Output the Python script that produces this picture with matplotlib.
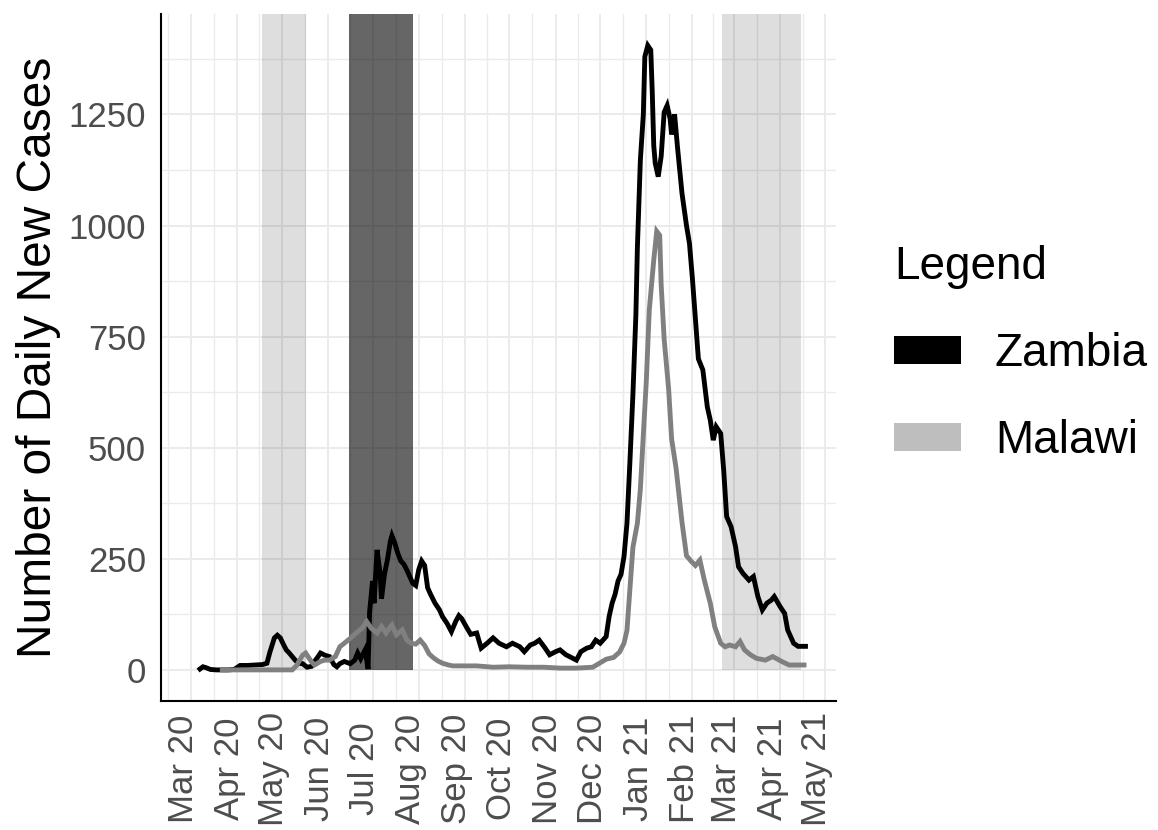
import matplotlib
matplotlib.use("Agg")
import matplotlib.pyplot as plt
from matplotlib.patches import Patch
from matplotlib.transforms import ScaledTranslation
import pandas as pd

plt.rcParams['font.family'] = 'Liberation Sans'

# daily new cases
zambia_dates = [
    '2020-03-07', '2020-03-09', '2020-03-11', '2020-03-14', '2020-03-18', '2020-03-22',
    '2020-03-26', '2020-03-30', '2020-04-03', '2020-04-08', '2020-04-13', '2020-04-18',
    '2020-04-21', '2020-04-23', '2020-04-26', '2020-04-28', '2020-04-30', '2020-05-02',
    '2020-05-04', '2020-05-06', '2020-05-08', '2020-05-10', '2020-05-12', '2020-05-15',
    '2020-05-18', '2020-05-21', '2020-05-23', '2020-05-25', '2020-05-27', '2020-05-30',
    '2020-06-02', '2020-06-05', '2020-06-07', '2020-06-09', '2020-06-12', '2020-06-16',
    '2020-06-19', '2020-06-21', '2020-06-23', '2020-06-26', '2020-06-28', '2020-06-29',
    '2020-07-01', '2020-07-02', '2020-07-04', '2020-07-06', '2020-07-07', '2020-07-09',
    '2020-07-11', '2020-07-13', '2020-07-14', '2020-07-16', '2020-07-18', '2020-07-20',
    '2020-07-22', '2020-07-24', '2020-07-26', '2020-07-28', '2020-07-30', '2020-08-01',
    '2020-08-03', '2020-08-05', '2020-08-07', '2020-08-09', '2020-08-12', '2020-08-15',
    '2020-08-17', '2020-08-20', '2020-08-23', '2020-08-26', '2020-08-28', '2020-08-30',
    '2020-09-02', '2020-09-05', '2020-09-09', '2020-09-12', '2020-09-16', '2020-09-20',
    '2020-09-24', '2020-09-29', '2020-10-03', '2020-10-08', '2020-10-11', '2020-10-15',
    '2020-10-18', '2020-10-21', '2020-10-25', '2020-10-28', '2020-11-01', '2020-11-04',
    '2020-11-08', '2020-11-12', '2020-11-15', '2020-11-18', '2020-11-22', '2020-11-25',
    '2020-11-28', '2020-12-01', '2020-12-05', '2020-12-07', '2020-12-09', '2020-12-11',
    '2020-12-13', '2020-12-15', '2020-12-17', '2020-12-19', '2020-12-21', '2020-12-23',
    '2020-12-25', '2020-12-26', '2020-12-28', '2020-12-30', '2020-12-31', '2021-01-02',
    '2021-01-04', '2021-01-05', '2021-01-06', '2021-01-07', '2021-01-09', '2021-01-11',
    '2021-01-13', '2021-01-15', '2021-01-17', '2021-01-18', '2021-01-20', '2021-01-22',
    '2021-01-25', '2021-01-28', '2021-01-30', '2021-02-01', '2021-02-03', '2021-02-05',
    '2021-02-08', '2021-02-11', '2021-02-13', '2021-02-15', '2021-02-17', '2021-02-20',
    '2021-02-22', '2021-02-24', '2021-02-27', '2021-03-02', '2021-03-04', '2021-03-07',
    '2021-03-11', '2021-03-14', '2021-03-17', '2021-03-20', '2021-03-23', '2021-03-26',
    '2021-03-28', '2021-04-01', '2021-04-04', '2021-04-06', '2021-04-10', '2021-04-13',
    '2021-04-18',
]
zambia_cases = [
    2, 7, 5, 1, 0, 0,
    0, 1, 10, 10, 11, 12,
    15, 40, 72, 78, 72, 58,
    45, 38, 30, 22, 15, 14,
    6, 8, 19, 28, 38, 33,
    30, 12, 7, 14, 19, 14,
    22, 38, 25, 45, 2, 130,
    200, 150, 270, 220, 160, 215,
    248, 290, 302, 285, 262, 245,
    238, 225, 210, 195, 190, 225,
    245, 235, 185, 170, 150, 135,
    120, 105, 86, 110, 122, 115,
    97, 80, 83, 49, 60, 72,
    60, 52, 60, 52, 41, 56,
    60, 67, 49, 34, 41, 45,
    34, 27, 22, 41, 49, 52,
    67, 60, 75, 120, 150, 170,
    200, 215, 255, 330, 470, 620,
    800, 950, 1147, 1250, 1380, 1405,
    1395, 1300, 1180, 1140, 1110, 1156,
    1255, 1270, 1240, 1205, 1250, 1175,
    1072, 1000, 960, 880, 790, 700,
    675, 592, 562, 517, 547, 532,
    450, 345, 322, 277, 232, 217,
    202, 210, 165, 135, 150, 157,
    165, 142, 127, 90, 60, 53,
    53,
]

malawi_dates = [
    '2020-03-22', '2020-04-05', '2020-04-20', '2020-05-08', '2020-05-11', '2020-05-13',
    '2020-05-15', '2020-05-17', '2020-05-19', '2020-05-21', '2020-05-23', '2020-05-25',
    '2020-05-27', '2020-05-30', '2020-06-02', '2020-06-06', '2020-06-09', '2020-06-12',
    '2020-06-16', '2020-06-20', '2020-06-24', '2020-06-27', '2020-06-30', '2020-07-04',
    '2020-07-07', '2020-07-10', '2020-07-14', '2020-07-17', '2020-07-21', '2020-07-24',
    '2020-07-27', '2020-07-30', '2020-08-02', '2020-08-05', '2020-08-08', '2020-08-11',
    '2020-08-14', '2020-08-17', '2020-08-21', '2020-08-24', '2020-09-02', '2020-09-09',
    '2020-09-20', '2020-10-01', '2020-10-13', '2020-10-24', '2020-11-04', '2020-11-15',
    '2020-11-26', '2020-12-01', '2020-12-05', '2020-12-10', '2020-12-14', '2020-12-17',
    '2020-12-19', '2020-12-21', '2020-12-23', '2020-12-26', '2020-12-28', '2020-12-30',
    '2021-01-01', '2021-01-03', '2021-01-06', '2021-01-08', '2021-01-10', '2021-01-11',
    '2021-01-13', '2021-01-16', '2021-01-18', '2021-01-21', '2021-01-25', '2021-01-28',
    '2021-01-31', '2021-02-03', '2021-02-06', '2021-02-09', '2021-02-13', '2021-02-16',
    '2021-02-20', '2021-02-23', '2021-02-26', '2021-03-02', '2021-03-05', '2021-03-08',
    '2021-03-12', '2021-03-16', '2021-03-22', '2021-03-27', '2021-04-02', '2021-04-07',
    '2021-04-17',
]
malawi_cases = [
    0, 0, 0, 0, 10, 22,
    33, 38, 28, 18, 11, 15,
    19, 22, 22, 30, 52, 60,
    71, 83, 94, 109, 94, 83,
    98, 83, 101, 79, 90, 67,
    60, 58, 67, 55, 36, 27,
    20, 15, 11, 9, 9, 9,
    6, 7, 6, 6, 4, 4,
    6, 16, 24, 28, 40, 60,
    89, 183, 276, 330, 407, 529,
    650, 810, 922, 987, 978, 866,
    744, 632, 520, 454, 332, 257,
    245, 235, 247, 202, 150, 97,
    60, 52, 56, 52, 64, 45,
    34, 26, 22, 30, 19, 11,
    11,
]

# shaded periods
light_periods = [('2020-04-18', '2020-05-17'), ('2021-02-21', '2021-04-15')]
dark_periods = [('2020-06-15', '2020-07-28')]

month_ticks = ['2020-03-01', '2020-04-01', '2020-05-01', '2020-06-01', '2020-07-01',
               '2020-08-01', '2020-09-01', '2020-10-01', '2020-11-01', '2020-12-01',
               '2021-01-01', '2021-02-01', '2021-03-01', '2021-04-01', '2021-05-01']
month_labels = ['Mar 20', 'Apr 20', 'May 20', 'Jun 20', 'Jul 20', 'Aug 20', 'Sep 20',
                'Oct 20', 'Nov 20', 'Dec 20', 'Jan 21', 'Feb 21', 'Mar 21', 'Apr 21',
                'May 21']
y_ticks = [0, 250, 500, 750, 1000, 1250]

zambia = pd.Series(zambia_cases, index=pd.to_datetime(zambia_dates))
malawi = pd.Series(malawi_cases, index=pd.to_datetime(malawi_dates))
ticks = pd.to_datetime(month_ticks)

fig = plt.figure(figsize=(11.58, 8.30), dpi=100)
ax = fig.add_axes([161 / 1158, 1 - 701 / 830, 675 / 1158, 687 / 830])

start = ticks[0]
ax.set_xlim(start - pd.Timedelta(days=20.2), start + pd.Timedelta(days=433.5))
ylo, yhi = -70, 1476
ax.set_ylim(ylo, yhi)

# grid
ax.set_axisbelow(True)
minor_x = [ticks[0] - pd.Timedelta(days=15.5)] + [a + (b - a) / 2 for a, b in zip(ticks[:-1], ticks[1:])]
ax.set_xticks(minor_x, minor=True)
ax.set_yticks([v + 125 for v in y_ticks], minor=True)
ax.grid(which='major', color='#EBEBEB', linewidth=1.4)
ax.grid(which='minor', color='#EBEBEB', linewidth=1.0)

ybase = (0 - ylo) / (yhi - ylo)
for a, b in light_periods:
    ax.axvspan(pd.Timestamp(a), pd.Timestamp(b), ymin=ybase, ymax=1,
               color='black', alpha=0.13, lw=0, zorder=1)
for a, b in dark_periods:
    ax.axvspan(pd.Timestamp(a), pd.Timestamp(b), ymin=ybase, ymax=1,
               color='black', alpha=0.6, lw=0, zorder=1)

ax.plot(zambia.index, zambia.values, color='black', lw=3.5, zorder=3,
        solid_joinstyle='miter')
ax.plot(malawi.index, malawi.values, color='#808080', lw=3.5, zorder=4,
        solid_joinstyle='miter')

for s in ['top', 'right']:
    ax.spines[s].set_visible(False)
for s in ['left', 'bottom']:
    ax.spines[s].set_linewidth(1.5)

ax.set_yticks(y_ticks)
ax.set_xticks(ticks)
ax.set_xticklabels(month_labels, rotation=90, va='center', ha='center')
ax.tick_params(which='both', length=0)
ax.tick_params(axis='y', labelsize=25, labelcolor='#4D4D4D', pad=10.8)
ax.tick_params(axis='x', labelsize=25, labelcolor='#4D4D4D', pad=49)
shift = ScaledTranslation(-8 / 100, 0, fig.dpi_scale_trans)
for lbl in ax.get_xticklabels():
    lbl.set_transform(lbl.get_transform() + shift)

ax.set_ylabel('Number of Daily New Cases', fontsize=34.5)
ax.yaxis.set_label_coords(-0.148, 0.5)

handles = [Patch(facecolor='black', label='Zambia'),
           Patch(facecolor='#BEBEBE', label='Malawi')]
fig.legend(handles=handles, title='Legend', loc='upper left',
           bbox_to_anchor=(894 / 1158, 1 - 245 / 830), frameon=False,
           fontsize=33, title_fontsize=33, handlelength=1.46, handleheight=0.55,
           handletextpad=0.74, labelspacing=0.94, alignment='left',
           borderpad=0, borderaxespad=0)

fig.savefig('out.png', dpi=100)
